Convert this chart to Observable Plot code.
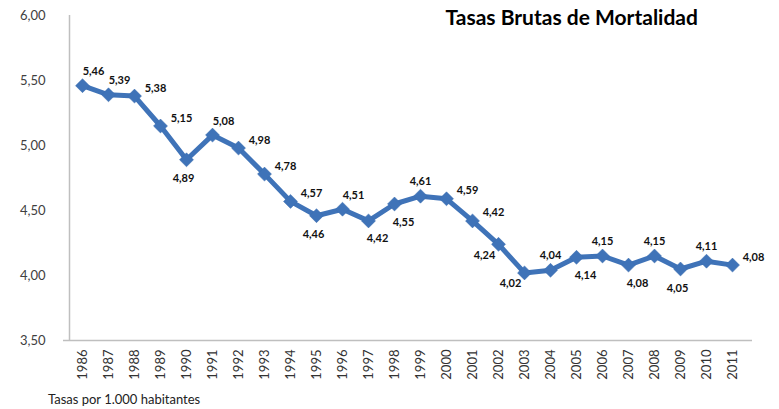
<!DOCTYPE html>
<html><head><meta charset="utf-8">
<script src="https://cdn.jsdelivr.net/npm/d3@7"></script>
<script src="https://cdn.jsdelivr.net/npm/@observablehq/plot@0.6"></script>
<style>
body{margin:0;background:#fff;font-family:Lato,"Open Sans",sans-serif;}
#cap{font-size:13px;color:#222;padding-left:48px;margin-top:1px;line-height:16px;}
</style></head>
<body><div id="chart"></div><div id="cap"></div>
<script>
const years = [1986,1987,1988,1989,1990,1991,1992,1993,1994,1995,1996,1997,1998,1999,2000,2001,2002,2003,2004,2005,2006,2007,2008,2009,2010,2011];
const rates = [5.46,5.39,5.38,5.15,4.89,5.08,4.98,4.78,4.57,4.46,4.51,4.42,4.55,4.61,4.59,4.42,4.24,4.02,4.04,4.14,4.15,4.08,4.15,4.05,4.11,4.08];
const labelPlacement = ["aR","aR","ar","ar","b","aR","ar","ar","ar","b","aR","br","br","a","ar","ar","bl","bl","a","br","a","br","a","b","a","ar"];
const yTicks = [3.5,4.0,4.5,5.0,5.5,6.0];
const title = "Tasas Brutas de Mortalidad";
const caption = "Tasas por 1.000 habitantes";

const data = years.map((y,i)=>({year:String(y), value:rates[i], place:labelPlacement[i]}));
const fmt = v => d3.format(".2f")(v).replace(".", ",");
const off = {
  ar:{dx:21,dy:-8}, aR:{dx:11,dy:-14}, a:{dx:0,dy:-15},
  b:{dx:-3,dy:19}, br:{dx:9,dy:18}, bl:{dx:-14,dy:11}
};
const color = "#3f73b8";

const textMarks = Object.keys(off).map(k => Plot.text(data.filter(d=>d.place===k), {
  x:"year", y:"value", text:d=>fmt(d.value), dx:off[k].dx, dy:off[k].dy,
  fontWeight:"bold", fontSize:11, fill:"#111"
}));

const chart = Plot.plot({
  width:779, height:390,
  marginLeft:63, marginRight:27, marginTop:15, marginBottom:50,
  style:{fontFamily:"Lato, 'Open Sans', sans-serif", background:"#fff"},
  x:{type:"point", domain:years.map(String), range:[76,738], padding:0, label:null},
  y:{domain:[3.5,6], ticks:yTicks, tickFormat:fmt, label:null},
  marks:[
    Plot.ruleX([years[0]].map(String),{dx:-13, stroke:"#bfbfbf", strokeWidth:1.5}),
    Plot.ruleY([3.5],{stroke:"#bfbfbf", strokeWidth:1.5}),
    Plot.axisY({ticks:yTicks, tickFormat:fmt, tickSize:0, tickPadding:18, fontSize:13, color:"#404040", label:null}),
    Plot.axisX({tickSize:0, tickPadding:9, tickRotate:-90, fontSize:13, color:"#333", label:null}),
    Plot.line(data,{x:"year", y:"value", stroke:color, strokeWidth:5, strokeLinejoin:"round"}),
    Plot.dot(data,{x:"year", y:"value", symbol:"diamond2", r:6.3, fill:color, stroke:"#3a6cae", strokeWidth:0.5}),
    ...textMarks,
    Plot.text([title],{frameAnchor:"top-left", dx:382, dy:3, lineAnchor:"middle", fontSize:21, fontWeight:"bold", fill:"#000", textAnchor:"start"})
  ]
});
document.getElementById("chart").appendChild(chart);
document.getElementById("cap").textContent = caption;
</script>
</body></html>
